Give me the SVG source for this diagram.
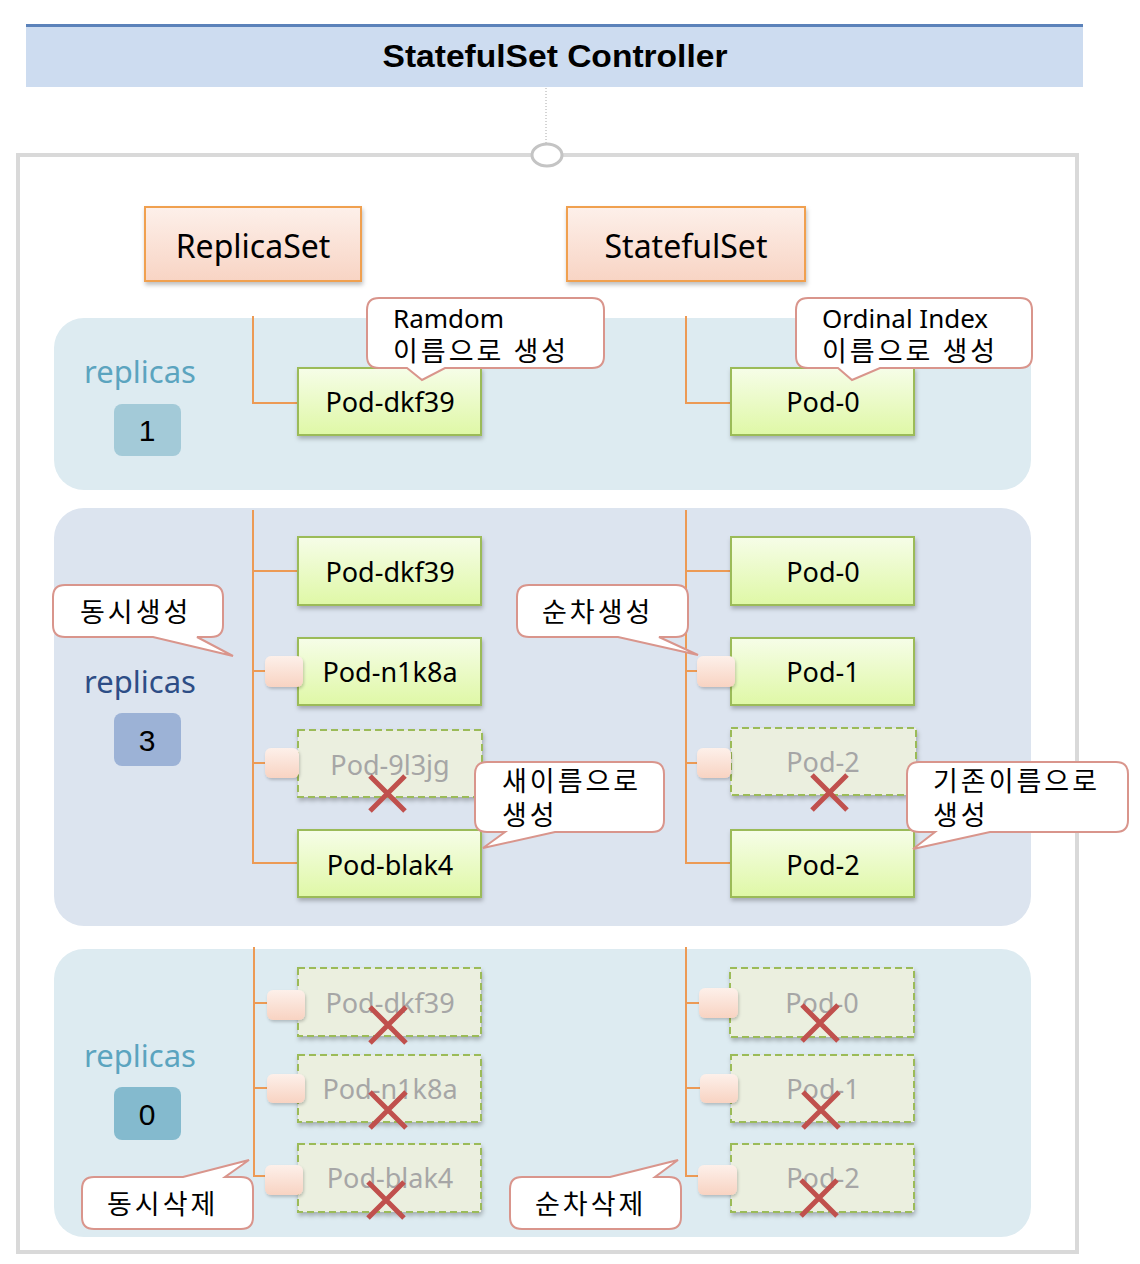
<svg xmlns="http://www.w3.org/2000/svg" width="1140" height="1264" viewBox="0 0 1140 1264">
<style>
.lat{font-family:"Noto Sans","Noto Sans CJK KR",sans-serif}
.kr{font-family:"Noto Sans CJK KR","Noto Sans",sans-serif;font-size:27px;letter-spacing:3px;fill:#000}
.pod{fill:url(#gPod);stroke:#9bbb59;stroke-width:2;filter:url(#sh)}
.podx{fill:#ebefdf;stroke:#9bbb59;stroke-width:2;stroke-dasharray:7 4;filter:url(#sh)}
.pt{font-family:"Noto Sans","Noto Sans CJK KR",sans-serif;font-size:27px;text-anchor:middle;fill:#000}
.ptx{font-family:"Noto Sans","Noto Sans CJK KR",sans-serif;font-size:27px;text-anchor:middle;fill:#a6a6a6}
.sq{fill:url(#gSq);filter:url(#sh2)}
.x{stroke:#c0504d;stroke-width:5;stroke-linecap:butt}
.co{fill:#fff;stroke:#d9958c;stroke-width:2}
.ln{stroke:#ec9a55;stroke-width:2;fill:none}
.rep{font-family:"Noto Sans",sans-serif;font-size:31px;text-anchor:middle}
.num{font-family:"Liberation Sans",sans-serif;font-size:30px;text-anchor:middle;fill:#000}
.set{fill:url(#gSet);stroke:#f0a050;stroke-width:2;filter:url(#sh)}
</style>
<defs>
<linearGradient id="gPod" x1="0" y1="0" x2="0" y2="1"><stop offset="0" stop-color="#f6fde8"/><stop offset="1" stop-color="#dff8a6"/></linearGradient>
<linearGradient id="gSq" x1="0" y1="0" x2="0" y2="1"><stop offset="0" stop-color="#fdf0ea"/><stop offset="1" stop-color="#f8d3c2"/></linearGradient>
<linearGradient id="gSet" x1="0" y1="0" x2="0" y2="1"><stop offset="0" stop-color="#fdf0ea"/><stop offset="1" stop-color="#f8d4c4"/></linearGradient>
<filter id="sh" x="-10%" y="-10%" width="130%" height="140%"><feDropShadow dx="1" dy="3" stdDeviation="2" flood-color="#000" flood-opacity="0.25"/></filter>
<filter id="sh2" x="-20%" y="-20%" width="150%" height="160%"><feDropShadow dx="1" dy="2" stdDeviation="1.5" flood-color="#000" flood-opacity="0.2"/></filter>
</defs>
<rect width="1140" height="1264" fill="#fff"/>

<g id="controller">
<rect x="26" y="25" width="1057" height="62" fill="#cddcf0"/>
<rect x="26" y="24" width="1057" height="3" fill="#5b82ba"/>
<text x="555" y="67" font-family="Liberation Sans,sans-serif" font-weight="bold" font-size="32" text-anchor="middle" textLength="345" lengthAdjust="spacingAndGlyphs">StatefulSet Controller</text>
</g>

<g id="container">
<rect x="18" y="155" width="1059" height="1097" fill="#fff" stroke="#d9d9d9" stroke-width="4"/>
<rect x="54" y="318" width="977" height="172" rx="30" fill="#ddebf1"/>
<rect x="54" y="508" width="977" height="418" rx="30" fill="#dce4ef"/>
<rect x="54" y="949" width="977" height="288" rx="30" fill="#ddebf1"/>
</g>

<g id="connectors">
<line x1="546" y1="88" x2="546" y2="144" stroke="#a8a8a8" stroke-width="1" stroke-dasharray="1 2"/>
<path class="ln" d="M253,316 V403 H298"/>
<path class="ln" d="M686,316 V403 H731"/>
<path class="ln" d="M253,510 V863 H298 M253,571 H298 M253,671 H270 M253,763 H270"/>
<path class="ln" d="M686,510 V863 H731 M686,571 H731 M686,671 H700 M686,763 H700"/>
<path class="ln" d="M254,947 V1176 H270 M254,1003 H270 M254,1088 H270"/>
<path class="ln" d="M686,947 V1176 H702 M686,1003 H702 M686,1088 H702"/>
</g>

<g id="anchor"><ellipse cx="547" cy="155" rx="15" ry="11" fill="#fff" stroke="#c4c4c4" stroke-width="3"/></g>

<g id="replicaset"><rect class="set" x="145" y="207" width="216" height="74"/><text class="lat" x="253" y="258" font-size="32" text-anchor="middle">ReplicaSet</text></g>
<g id="statefulset"><rect class="set" x="567" y="207" width="238" height="74"/><text class="lat" x="686" y="258" font-size="32" text-anchor="middle">StatefulSet</text></g>

<g id="replicas1"><text class="rep" x="140" y="383" fill="#5ba4bf">replicas</text><rect x="114" y="404" width="67" height="52" rx="8" fill="#a3cad8"/><text class="num" x="147" y="441">1</text></g>
<g id="replicas3"><text class="rep" x="140" y="693" fill="#2d4d86">replicas</text><rect x="114" y="713" width="67" height="53" rx="8" fill="#9cb2d6"/><text class="num" x="147" y="751">3</text></g>
<g id="replicas0"><text class="rep" x="140" y="1067" fill="#5ba4bf">replicas</text><rect x="114" y="1087" width="67" height="53" rx="8" fill="#84bace"/><text class="num" x="147" y="1125">0</text></g>

<!-- row 1 pods -->
<g id="r1-pod-dkf39"><rect class="pod" x="298" y="368" width="183" height="67"/><text class="pt" x="390" y="412">Pod-dkf39</text></g>
<g id="r1-pod-0"><rect class="pod" x="731" y="368" width="183" height="67"/><text class="pt" x="823" y="412">Pod-0</text></g>

<!-- row 2 pods -->
<g id="r2-pod-dkf39"><rect class="pod" x="298" y="537" width="183" height="68"/><text class="pt" x="390" y="582">Pod-dkf39</text></g>
<g id="r2-pod-n1k8a"><rect class="pod" x="298" y="638" width="183" height="67"/><text class="pt" x="390" y="682">Pod-n1k8a</text><rect class="sq" x="265" y="656" width="38" height="31" rx="6"/></g>
<g id="r2-pod-9l3jg"><rect class="podx" x="298" y="730" width="184" height="67"/><text class="ptx" x="390" y="775">Pod-9l3jg</text><rect class="sq" x="265" y="748" width="34" height="30" rx="6"/><path class="x" d="M370,776 L405,811 M405,776 L370,811"/></g>
<g id="r2-pod-blak4"><rect class="pod" x="298" y="830" width="183" height="67"/><text class="pt" x="390" y="875">Pod-blak4</text></g>

<g id="r2-pod-0"><rect class="pod" x="731" y="537" width="183" height="68"/><text class="pt" x="823" y="582">Pod-0</text></g>
<g id="r2-pod-1"><rect class="pod" x="731" y="638" width="183" height="67"/><text class="pt" x="823" y="682">Pod-1</text><rect class="sq" x="697" y="656" width="38" height="31" rx="6"/></g>
<g id="r2-pod-2-old"><rect class="podx" x="731" y="728" width="185" height="67"/><text class="ptx" x="823" y="772">Pod-2</text><rect class="sq" x="697" y="748" width="34" height="30" rx="6"/><path class="x" d="M812,775 L847,810 M847,775 L812,810"/></g>
<g id="r2-pod-2"><rect class="pod" x="731" y="830" width="183" height="67"/><text class="pt" x="823" y="875">Pod-2</text></g>

<!-- row 3 pods -->
<g id="r3-pod-dkf39"><rect class="podx" x="298" y="968" width="183" height="68"/><text class="ptx" x="390" y="1013">Pod-dkf39</text><rect class="sq" x="267" y="990" width="38" height="30" rx="6"/><path class="x" d="M370,1007 L406,1043 M406,1007 L370,1043"/></g>
<g id="r3-pod-n1k8a"><rect class="podx" x="298" y="1055" width="183" height="67"/><text class="ptx" x="390" y="1099">Pod-n1k8a</text><rect class="sq" x="267" y="1074" width="38" height="29" rx="6"/><path class="x" d="M370,1092 L406,1128 M406,1092 L370,1128"/></g>
<g id="r3-pod-blak4"><rect class="podx" x="298" y="1144" width="183" height="68"/><text class="ptx" x="390" y="1188">Pod-blak4</text><rect class="sq" x="265" y="1165" width="38" height="30" rx="6"/><path class="x" d="M368,1182 L404,1218 M404,1182 L368,1218"/></g>

<g id="r3-pod-0"><rect class="podx" x="730" y="968" width="184" height="69"/><text class="ptx" x="822" y="1013">Pod-0</text><rect class="sq" x="699" y="988" width="39" height="30" rx="6"/><path class="x" d="M802,1005 L838,1041 M838,1005 L802,1041"/></g>
<g id="r3-pod-1"><rect class="podx" x="731" y="1055" width="183" height="67"/><text class="ptx" x="823" y="1099">Pod-1</text><rect class="sq" x="700" y="1074" width="38" height="29" rx="6"/><path class="x" d="M803,1092 L839,1128 M839,1092 L803,1128"/></g>
<g id="r3-pod-2"><rect class="podx" x="731" y="1144" width="183" height="68"/><text class="ptx" x="823" y="1188">Pod-2</text><rect class="sq" x="698" y="1165" width="39" height="30" rx="6"/><path class="x" d="M801,1180 L837,1216 M837,1180 L801,1216"/></g>

<!-- callouts -->
<g id="callout-random"><path class="co" d="M379,298 H592 Q604,298 604,310 V356 Q604,368 592,368 H445 L422,380 L407,368 H379 Q367,368 367,356 V310 Q367,298 379,298 Z"/><text class="lat" x="393" y="328" font-size="26">Ramdom</text><text class="kr" x="393" y="361">이름으로 생성</text></g>
<g id="callout-ordinal"><path class="co" d="M808,298 H1020 Q1032,298 1032,310 V356 Q1032,368 1020,368 H880 L852,380 L838,368 H808 Q796,368 796,356 V310 Q796,298 808,298 Z"/><text class="lat" x="822" y="328" font-size="26">Ordinal Index</text><text class="kr" x="822" y="361">이름으로 생성</text></g>
<g id="callout-concurrent-create"><path class="co" d="M65,585 H211 Q223,585 223,597 V625 Q223,637 211,637 H197 L233,656 L153,637 H65 Q53,637 53,625 V597 Q53,585 65,585 Z"/><text class="kr" x="80" y="622">동시생성</text></g>
<g id="callout-sequential-create"><path class="co" d="M529,585 H676 Q688,585 688,597 V625 Q688,637 676,637 H659 L698,655 L618,637 H529 Q517,637 517,625 V597 Q517,585 529,585 Z"/><text class="kr" x="542" y="622">순차생성</text></g>
<g id="callout-new-name"><path class="co" d="M487,762 H652 Q664,762 664,774 V820 Q664,832 652,832 H555 L483,848 L505,832 H487 Q475,832 475,820 V774 Q475,762 487,762 Z"/><text class="kr" x="502" y="791">새이름으로</text><text class="kr" x="502" y="825">생성</text></g>
<g id="callout-same-name"><path class="co" d="M919,762 H1116 Q1128,762 1128,774 V820 Q1128,832 1116,832 H990 L913,849 L935,832 H919 Q907,832 907,820 V774 Q907,762 919,762 Z"/><text class="kr" x="933" y="791">기존이름으로</text><text class="kr" x="933" y="825">생성</text></g>
<g id="callout-concurrent-delete"><path class="co" d="M94,1177 H183 L249,1160 L225,1177 H241 Q253,1177 253,1189 V1217 Q253,1229 241,1229 H94 Q82,1229 82,1217 V1189 Q82,1177 94,1177 Z"/><text class="kr" x="107" y="1214">동시삭제</text></g>
<g id="callout-sequential-delete"><path class="co" d="M522,1177 H610 L678,1160 L655,1177 H669 Q681,1177 681,1189 V1217 Q681,1229 669,1229 H522 Q510,1229 510,1217 V1189 Q510,1177 522,1177 Z"/><text class="kr" x="535" y="1214">순차삭제</text></g>
</svg>
